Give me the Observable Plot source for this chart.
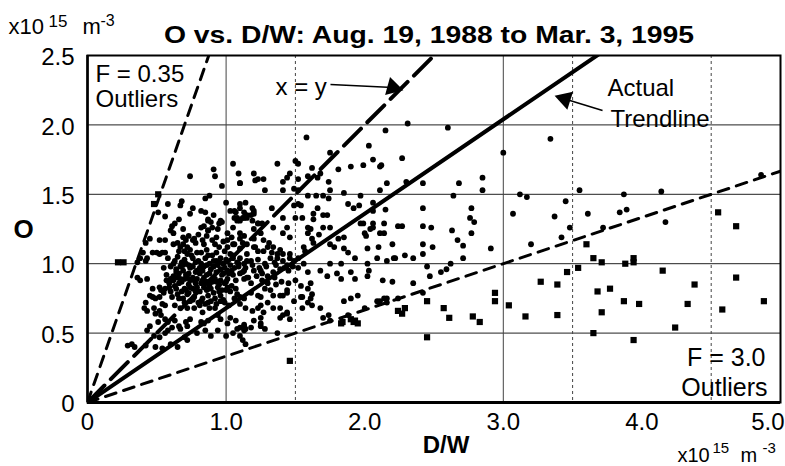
<!DOCTYPE html>
<html><head><meta charset="utf-8">
<script src="https://cdn.jsdelivr.net/npm/d3@7"></script>
<script src="https://cdn.jsdelivr.net/npm/@observablehq/plot@0.6"></script>
<style>body{margin:0;background:#fff} svg{display:block}</style>
</head><body><div id="chart"></div>
<script>
// ---- data ----
const xTicks = [0, 1, 2, 3, 4, 5];
const yTicks = [0, 0.5, 1, 1.5, 2, 2.5];
const gridY = [0.5, 1, 1.5, 2];
const gridXSolid = [1, 3];
const gridXDotted = [1.5, 3.5, 4.5];
const fLow = 0.35;      // F = 0.35 outlier bound: O = (D/W)/F
const fHigh = 3.0;      // F = 3.0 outlier bound
const identitySlope = 1; // x = y
const trendSlope = 0.68; // actual trendline

// regular points [D/W, O] (x10^15 m^-3)
const points = [
[2.15,1.96],[2.31,2.01],[2.60,1.98],[3.34,1.90],[2.11,1.70],[2.27,1.76],[3.00,1.80],[2.16,1.58],[2.30,1.59],[2.42,1.58],
[2.68,1.58],[2.85,1.62],[2.85,1.53],[2.64,1.49],[3.12,1.50],[3.17,1.48],[3.55,1.53],[3.87,1.50],[4.14,1.52],[4.86,1.64],
[2.15,1.39],[2.42,1.40],[2.77,1.40],[2.76,1.33],[2.79,1.30],[3.07,1.36],[3.45,1.45],[3.37,1.34],[3.48,1.26],[3.42,1.19],
[3.61,1.36],[3.84,1.37],[3.89,1.39],[3.72,1.26],[4.17,1.30],[2.27,1.27],[2.42,1.27],[2.48,1.26],[2.63,1.24],[2.11,1.22],
[2.77,1.22],[2.67,1.17],[2.71,1.13],[2.20,1.14],[2.42,1.14],[2.49,1.12],[3.20,1.14],[2.91,1.11],[2.21,1.04],[2.29,1.06],
[2.35,1.04],[2.42,1.07],[2.71,1.04],[2.62,1.00],[2.45,0.98],[2.55,0.94],[2.59,0.96],[2.47,0.91],[2.13,0.88],[2.20,0.87],
[2.35,0.86],[2.42,0.79],[2.11,0.73],[2.16,0.75],
[1.58,1.91],[1.75,1.80],[2.03,1.85],[2.06,1.75],[2.12,1.71],[1.99,1.71],[1.90,1.70],[1.81,1.68],[1.37,1.72],[1.50,1.74],
[1.52,1.72],[1.20,1.65],[1.62,1.69],[1.59,1.63],[1.46,1.65],[1.44,1.62],[1.41,1.59],[1.23,1.61],[1.27,1.61],[1.21,1.60],
[1.10,1.58],[1.52,1.61],[1.68,1.65],[1.66,1.62],[1.74,1.59],[1.28,1.53],[1.41,1.53],[1.49,1.54],[1.52,1.53],[1.59,1.49],
[1.65,1.49],[1.70,1.49],[1.75,1.53],[1.74,1.47],[1.85,1.51],[1.97,1.49],[2.06,1.44],[2.11,1.53],[1.10,1.43],[1.14,1.44],
[1.19,1.40],[1.20,1.36],[1.33,1.40],[1.49,1.42],[1.52,1.43],[1.54,1.42],[1.66,1.40],[1.63,1.36],[1.63,1.32],[1.70,1.35],
[1.73,1.35],[1.88,1.43],[1.92,1.40],[1.96,1.42],[2.06,1.38],[1.13,1.33],[1.15,1.33],[1.23,1.29],[1.26,1.29],[1.41,1.33],
[1.50,1.33],[1.55,1.33],[1.44,1.26],[1.61,1.25],[1.59,1.26],[1.70,1.26],[1.75,1.26],[1.97,1.29],[1.99,1.29],[2.06,1.26],
[2.04,1.25],[2.06,1.29],[2.14,1.29],[2.24,1.27],[1.46,1.19],[1.59,1.22],[1.62,1.18],[1.63,1.15],[1.67,1.21],[1.85,1.19],
[1.81,1.18],[2.00,1.22],[2.01,1.20],[2.14,1.22],[1.27,1.17],[1.31,1.15],[1.21,1.12],[1.23,1.09],[1.34,1.12],[1.39,1.10],
[1.41,1.07],[1.56,1.12],[1.57,1.09],[1.78,1.12],[1.75,1.14],[1.85,1.11],[1.88,1.08],[2.02,1.11],[2.10,1.12],[1.93,1.04],
[2.09,1.04],[2.16,1.02],[2.22,1.04],[1.75,1.00],[1.83,1.00],[2.02,1.00],[1.46,1.04],[1.49,1.02],
[0.74,1.63],[0.91,1.68],[0.92,1.63],[0.97,1.56],[1.05,1.72],[1.09,1.65],[1.10,1.58],[0.51,1.37],[0.58,1.43],[0.68,1.45],
[0.67,1.42],[0.76,1.40],[0.74,1.36],[0.85,1.47],[0.88,1.49],[0.85,1.37],[1.00,1.44],[1.06,1.38],[1.10,1.40],[0.56,1.34],
[0.66,1.32],[0.63,1.29],[0.61,1.27],[0.87,1.31],[0.89,1.30],[0.84,1.27],[0.87,1.24],[0.90,1.26],[0.95,1.29],[0.97,1.30],
[1.10,1.31],[1.06,1.33],[0.60,1.24],[0.69,1.25],[0.56,1.17],[0.52,1.17],[0.42,1.15],[0.45,1.18],[0.65,1.15],[0.69,1.14],
[0.72,1.12],[0.70,1.09],[0.77,1.18],[0.78,1.15],[0.83,1.17],[0.84,1.14],[0.90,1.17],[0.92,1.14],[0.95,1.12],[1.01,1.17],
[1.06,1.14],[1.10,1.18],[1.12,1.15],[0.47,1.08],[0.43,1.04],[0.42,1.02],[0.36,1.01],[0.52,1.07],[0.56,1.08],[0.40,1.08],
[0.38,1.04],
[0.50,1.08],[0.54,1.08],[0.62,1.14],[0.67,1.12],[0.71,1.17],[0.72,1.07],[0.76,1.04],[0.82,1.08],[0.87,1.06],[0.91,1.02],
[0.96,1.04],[1.01,1.12],[1.05,1.14],[1.10,1.11],[1.15,1.07],[1.20,1.12],[1.27,1.09],[1.32,1.04],[1.37,1.07],[1.41,1.02],
[1.46,1.07],[1.52,1.04],[0.82,1.38],[0.87,1.32],[0.91,1.35],[0.96,1.31],[1.03,1.38],[1.08,1.33],[1.13,1.37],[1.18,1.35],
[0.82,1.26],[0.87,1.24],[0.94,1.25],[1.01,1.22],[1.05,1.26],[1.10,1.22],[1.20,1.25],[1.25,1.22],[1.34,1.26],[1.41,1.22],
[0.62,1.22],[0.69,1.19],[0.76,1.17],
[1.07,1.37],[1.12,1.33],[1.08,1.31],[1.15,1.35],[1.20,1.38],[1.19,1.31],[1.23,1.29],[1.13,1.20],[1.15,1.14],[1.20,1.18],
[1.30,1.12],[1.33,1.08],[1.37,1.04],[1.05,1.04],[1.09,1.00],[1.13,0.95],[1.16,0.90],[1.20,0.95],[1.26,0.93],[1.30,0.86],
[1.32,0.81],[1.08,0.78],[1.13,0.75],[1.18,0.79],[1.23,0.77],[1.25,0.70],[1.30,0.72],[1.34,0.68],[1.39,0.77],[1.44,0.81],
[1.49,0.73],[1.54,0.76],[1.39,0.61],[1.44,0.64],[1.20,0.59],[1.25,0.57],[1.01,0.57],[1.08,0.53],[1.14,0.53],[1.28,0.53],
[1.37,0.50],
[1.12,0.94],[1.15,0.90],[1.25,0.95],[1.30,0.91],[1.34,0.94],[1.39,0.96],[1.45,0.95],[1.59,0.94],[1.61,0.86],[1.59,0.82],
[1.62,0.78],[1.61,0.75],[1.68,0.95],[1.73,0.91],[1.80,0.93],[1.83,0.89],[1.90,0.94],[1.93,0.89],[2.02,0.91],[2.03,0.95],
[1.25,0.76],[1.34,0.77],[1.41,0.77],[1.44,0.79],[1.55,0.76],[1.59,0.72],[1.62,0.70],[1.68,0.68],[1.85,0.73],[1.90,0.75],
[1.95,0.77],[2.00,0.68],[2.09,0.73],[2.14,0.75],[2.16,0.72],[2.24,0.75],[1.19,0.66],[1.23,0.68],[1.27,0.65],[1.25,0.61],
[1.39,0.68],[1.41,0.63],[1.44,0.65],[1.46,0.60],[1.55,0.68],[1.70,0.61],[1.74,0.63],[1.75,0.59],[1.88,0.63],[1.13,0.55],
[1.18,0.54],[1.25,0.55],
[0.36,0.90],[0.38,0.88],[0.43,0.89],[0.45,0.77],[0.47,0.76],[0.49,0.75],[0.52,0.76],[0.42,0.72],[0.41,0.68],[0.43,0.66],
[0.48,0.68],[0.52,0.66],[0.49,0.64],[0.54,0.71],[0.56,0.70],[0.53,0.63],[0.56,0.60],[0.51,0.58],[0.45,0.55],[0.43,0.52],
[0.58,0.58],[0.61,0.54],[0.58,0.52],[0.63,0.59],[0.66,0.55],[0.67,0.53],[0.72,0.55],[0.71,0.58],[0.74,0.60],[0.48,0.48],
[0.52,0.47],[0.56,0.50],[0.34,0.40],[0.42,0.41],[0.49,0.40],[0.54,0.39],[0.60,0.42],[0.65,0.40],[0.70,0.47],[0.72,0.45],
[0.79,0.50],[0.85,0.52],[0.89,0.48],[0.94,0.52],[1.00,0.48],[1.05,0.50],[1.10,0.48],[1.13,0.52],[0.29,0.41],[0.32,0.42],
[0.53,0.81],[0.56,0.82],[0.52,0.83],[0.47,0.82],[0.59,0.86],[0.63,0.84],[0.66,0.86],[0.61,0.76],[0.65,0.78],[0.69,0.75],
[0.72,0.78],[0.77,0.76],[0.63,0.70],[0.67,0.68],[0.72,0.68],[0.77,0.68],[0.81,0.70],[0.83,0.65],[0.88,0.68],[0.92,0.68],
[0.83,0.75],[0.87,0.77],[0.89,0.73],[0.92,0.75],[0.96,0.77],[0.99,0.72],[1.02,0.70],[1.06,0.75],[1.10,0.76],[1.10,0.71],
[1.14,0.68],[0.94,0.63],[0.96,0.60],[1.03,0.61],[1.07,0.59],[0.82,0.58],[0.84,0.57],[0.87,0.59],[1.10,0.54],[1.13,0.56],
[1.12,0.45],[1.14,0.42],
[0.55,0.97],[0.60,0.98],[0.64,0.96],[0.69,0.99],[0.74,0.97],[0.79,0.95],[0.84,0.98],[0.89,0.96],[0.94,0.99],[0.99,0.97],
[1.04,0.95],[1.09,0.98],[1.14,0.97],[1.19,0.99],[1.24,0.97],[1.29,0.98],[1.36,0.99],[1.42,0.97],[1.48,0.98],
[0.57,0.92],[0.62,0.91],[0.66,0.93],[0.71,0.92],[0.76,0.90],[0.81,0.93],[0.86,0.92],[0.91,0.90],[0.97,0.92],[1.02,0.93],
[1.22,0.91],[1.35,0.90],[0.68,0.87],[0.73,0.85],[0.78,0.86],[0.83,0.88],[0.88,0.85],[0.93,0.87],[0.99,0.86],[1.04,0.84],
[1.18,0.86],[1.40,0.87],[1.50,0.88],[0.60,0.80],[0.71,0.81],[0.76,0.82],[0.81,0.80],[0.86,0.81],[0.91,0.79],[0.97,0.81],
[1.03,0.80],[1.28,0.82],[0.74,0.73],[0.80,0.72],[0.85,0.71],[0.98,0.74],
[0.60,0.89],[0.65,0.90],[0.70,0.89],[0.74,0.88],[0.79,0.89],[0.84,0.90],[0.92,0.89],[0.96,0.88],[1.01,0.89],[1.07,0.88],
[1.13,0.89],[0.70,0.82],[0.74,0.83],[0.79,0.83],[0.87,0.82],[0.94,0.83],[1.01,0.83],[1.07,0.82],
[0.65,1.05],[0.70,1.03],[0.75,1.06],[0.80,1.02],[0.85,1.04],[0.90,1.06],[0.95,1.01],[1.00,1.03],[1.05,1.06],[1.10,1.04],
[1.15,1.02],[0.62,1.00],[0.68,1.01],[0.73,0.99],[0.78,1.01],[0.82,1.00],[0.88,1.00],[0.93,1.02],[0.98,1.00],[1.03,0.99],
[1.08,1.01],[1.13,1.00],[1.18,1.02],
[0.63,1.02],[0.67,0.98],[0.71,1.00],[0.76,0.98],[0.81,0.97],[0.86,0.99],[0.91,0.98],[0.96,0.96],[1.01,0.95],[1.06,0.97],
[0.64,0.94],[0.69,0.95],[0.73,0.93],[0.78,0.94],[0.83,0.95],[0.88,0.93],[0.93,0.94],[0.98,0.93],[1.05,0.92],[1.10,0.93],
[0.62,0.88],[0.67,0.89],[0.72,0.90],[0.77,0.88],[0.82,0.86],[0.86,0.87],[0.90,0.87],[0.95,0.85],[1.00,0.87],
[0.64,0.82],[0.68,0.80],[0.73,0.79],[0.78,0.80],[0.84,0.83],[0.89,0.82],[0.95,0.80],[1.00,0.81],
[0.66,0.75],[0.70,0.72],[0.76,0.74],[0.82,0.73],[0.87,0.72],[0.93,0.71],[0.96,0.73],
[0.66,1.09],[0.74,1.10],[0.79,1.08],[0.86,1.10],[0.93,1.08],[0.99,1.09],[1.03,1.07],
[0.73,1.20],[0.80,1.21],[0.86,1.20],[0.93,1.19],[0.98,1.16],[1.04,1.19],
[0.58,1.04],[0.57,0.88],[0.59,0.83],[0.55,0.79],
[1.23,1.03],[1.28,1.00],[1.35,1.01],[1.44,0.99],[1.52,0.97],[1.56,1.00],[1.26,0.88],[1.36,0.85],[1.45,0.86],[1.54,0.84]
];

// outliers (drawn as squares) [D/W, O]
const outliers = [
[2.94,0.79],[2.94,0.73],[2.57,0.68],[2.61,0.61],[2.78,0.62],[2.83,0.58],[3.04,0.70],[3.16,0.62],[3.27,0.87],[3.39,0.85],
[3.39,0.63],[3.46,0.94],[3.54,0.97],[3.60,1.14],[3.65,1.04],[3.71,1.01],[3.88,1.00],[3.94,1.04],[3.94,1.01],[3.68,0.80],
[3.77,0.82],[3.71,0.65],[3.87,0.73],[3.98,0.71],[3.65,0.50],[3.94,0.45],[4.15,0.95],[4.24,0.54],[4.33,0.71],[4.38,0.85],
[4.55,1.37],[4.68,1.27],[4.68,0.90],[4.58,0.67],[4.88,0.73],[2.45,0.73],[2.24,0.66],[2.27,0.64],[2.29,0.68],[2.45,0.47],
[1.46,0.30],[1.84,0.58],[1.93,0.59],[1.95,0.57],[1.83,0.57],[1.90,0.60],[1.92,0.58],
[0.22,1.01],[0.26,1.01],[0.48,1.43],[0.51,1.50]
];

const titleText = "O vs. D/W: Aug. 19, 1988 to Mar. 3, 1995";

// ---- chart ----
const font = "'Liberation Sans', Arial, Helvetica, sans-serif";
const xMax = 5;
const ray = (slope) => [{x: 0, y: 0}, {x: xMax, y: xMax * slope}];
const fmt = d => d === 0 ? "0" : d.toFixed(1);

const txt = (s, o) => Plot.text([s], {text: d => d, fill: "black", stroke: null, ...o});

const chart = Plot.plot({
  width: 785,
  height: 466,
  marginLeft: 87,
  marginRight: 5,
  marginTop: 55,
  marginBottom: 64,
  style: {fontFamily: font, background: "white", color: "black"},
  x: {domain: [0, 5], axis: null},
  y: {domain: [0, 2.5], axis: null},
  marks: [
    Plot.ruleY(gridY, {stroke: "#222", strokeWidth: 1}),
    Plot.ruleX(gridXSolid, {stroke: "#444", strokeWidth: 1}),
    Plot.ruleX(gridXDotted, {stroke: "#444", strokeWidth: 1, strokeDasharray: "3,3"}),
    Plot.dot(points, {x: d => d[0], y: d => d[1], r: 2.9, fill: "black", stroke: null}),
    Plot.dot(outliers, {x: d => d[0], y: d => d[1], r: 3.5, symbol: "square", fill: "black", stroke: null}),
    Plot.line(ray(1 / fLow), {x: "x", y: "y", stroke: "black", strokeWidth: 3, strokeDasharray: "11,8", clip: true}),
    Plot.line(ray(1 / fHigh), {x: "x", y: "y", stroke: "black", strokeWidth: 3, strokeDasharray: "11,8", clip: true}),
    Plot.line(ray(identitySlope), {x: "x", y: "y", stroke: "black", strokeWidth: 4, strokeDasharray: "24,9", clip: true}),
    Plot.line(ray(trendSlope), {x: "x", y: "y", stroke: "black", strokeWidth: 4, clip: true}),
    Plot.frame({stroke: "black", strokeWidth: 2}),
    Plot.ruleY([0], {stroke: "black", strokeWidth: 3}),
    Plot.ruleX([0], {stroke: "black", strokeWidth: 2.5}),
    // tick labels
    Plot.text(xTicks.filter(d => d < 5), {x: d => d, text: fmt, frameAnchor: "bottom", lineAnchor: "top", dy: 10, fontSize: 24, fill: "black"}),
    Plot.text(xTicks.filter(d => d === 5), {x: d => d, text: fmt, frameAnchor: "bottom", textAnchor: "end", lineAnchor: "top", dx: 4, dy: 10, fontSize: 24, fill: "black"}),
    Plot.text(yTicks, {y: d => d, text: fmt, frameAnchor: "left", textAnchor: "end", lineAnchor: "middle", dx: -13, dy: 2, fontSize: 24, fill: "black"}),
    // title & axis labels
    txt(titleText, {frameAnchor: "top", dx: -5, dy: -13, lineAnchor: "bottom", fontSize: 24, fontWeight: "bold"}),
    txt("O", {frameAnchor: "left", textAnchor: "middle", lineAnchor: "bottom", dx: -64, dy: 9, fontSize: 26, fontWeight: "bold"}),
    txt("D/W", {frameAnchor: "bottom", textAnchor: "middle", lineAnchor: "bottom", dx: 12, dy: 50, fontSize: 24, fontWeight: "bold"}),
    // units top-left
    txt("x10", {frameAnchor: "top-left", textAnchor: "start", lineAnchor: "bottom", dx: -79, dy: -22, fontSize: 22}),
    txt("15", {frameAnchor: "top-left", textAnchor: "start", lineAnchor: "bottom", dx: -39, dy: -29, fontSize: 17}),
    txt("m", {frameAnchor: "top-left", textAnchor: "start", lineAnchor: "bottom", dx: -5, dy: -22, fontSize: 22}),
    txt("-3", {frameAnchor: "top-left", textAnchor: "start", lineAnchor: "bottom", dx: 13, dy: -30, fontSize: 16}),
    // units bottom-right
    txt("x10", {frameAnchor: "bottom-right", textAnchor: "start", lineAnchor: "bottom", dx: -103, dy: 59, fontSize: 20}),
    txt("15", {frameAnchor: "bottom-right", textAnchor: "start", lineAnchor: "bottom", dx: -68, dy: 50, fontSize: 15}),
    txt("m", {frameAnchor: "bottom-right", textAnchor: "start", lineAnchor: "bottom", dx: -40, dy: 59, fontSize: 20}),
    txt("-3", {frameAnchor: "bottom-right", textAnchor: "start", lineAnchor: "bottom", dx: -18, dy: 50, fontSize: 15}),
    // annotations
    txt("F = 0.35", {frameAnchor: "top-left", textAnchor: "start", lineAnchor: "bottom", dx: 8, dy: 26, fontSize: 24}),
    txt("Outliers", {frameAnchor: "top-left", textAnchor: "start", lineAnchor: "bottom", dx: 8, dy: 51, fontSize: 24}),
    txt("F = 3.0", {frameAnchor: "bottom-right", textAnchor: "end", lineAnchor: "bottom", dx: -15, dy: -37, fontSize: 25}),
    txt("Outliers", {frameAnchor: "bottom-right", textAnchor: "end", lineAnchor: "bottom", dx: -13, dy: -7, fontSize: 25}),
    txt("x = y", {frameAnchor: "top-left", textAnchor: "start", lineAnchor: "bottom", dx: 188, dy: 39, fontSize: 24}),
    txt("Actual", {frameAnchor: "top-left", textAnchor: "start", lineAnchor: "bottom", dx: 520, dy: 40, fontSize: 24}),
    txt("Trendline", {frameAnchor: "top-left", textAnchor: "start", lineAnchor: "bottom", dx: 523, dy: 71, fontSize: 24}),
    // arrows
    Plot.link([{x1: 1.753, y1: 2.291, x2: 2.203, y2: 2.270}], {x1: "x1", y1: "y1", x2: "x2", y2: "y2", stroke: "black", strokeWidth: 1.5}),
    Plot.dot([{x: 2.203, y: 2.270}], {x: "x", y: "y", symbol: "triangle", r: 7, rotate: 105, fill: "black", stroke: null}),
    Plot.link([{x1: 3.716, y1: 2.104, x2: 3.445, y2: 2.186}], {x1: "x1", y1: "y1", x2: "x2", y2: "y2", stroke: "black", strokeWidth: 1.5}),
    Plot.dot([{x: 3.445, y: 2.186}], {x: "x", y: "y", symbol: "triangle", r: 7, rotate: 287.5, fill: "black", stroke: null})
  ]
});

// horizontal stretch of the title to match the reference typeface
chart.querySelectorAll("text").forEach(t => {
  if (t.textContent !== titleText) return;
  const tr = t.getAttribute("transform") || "";
  const x = t.getAttribute("x") || 0;
  const y = t.getAttribute("y") || 0;
  t.removeAttribute("x");
  t.removeAttribute("y");
  t.setAttribute("transform", `${tr} translate(${x},0) scale(1.18,1)`);
  if (y) t.setAttribute("dy", y);
});

document.getElementById("chart").appendChild(chart);
</script>
</body></html>
